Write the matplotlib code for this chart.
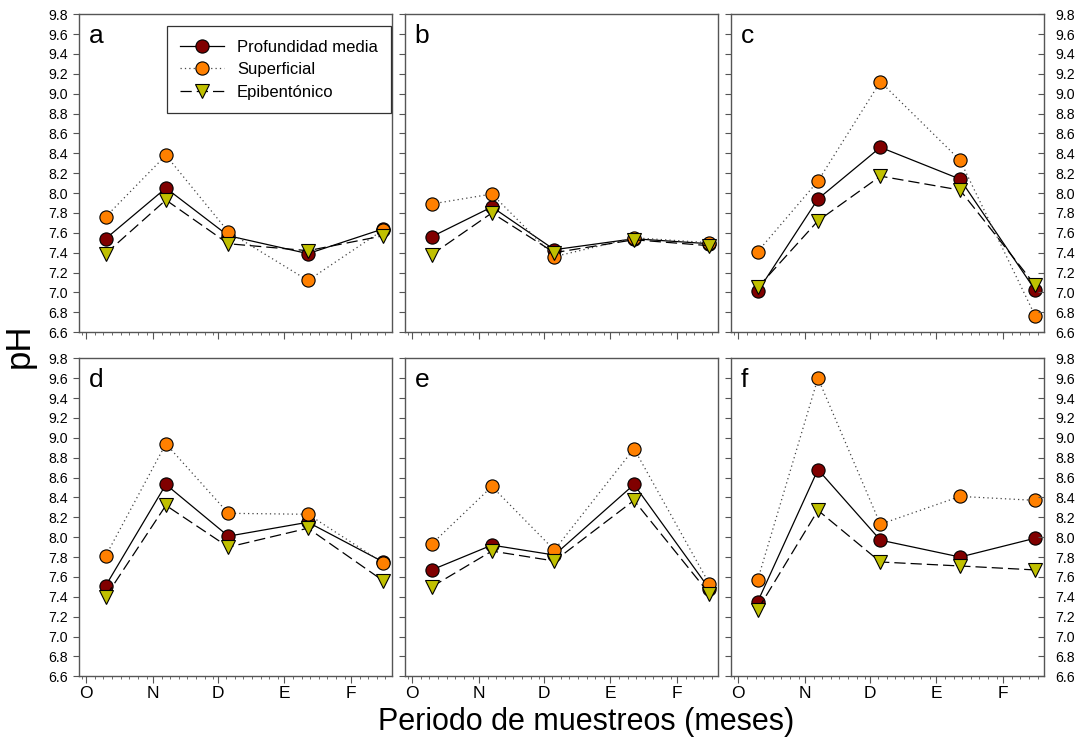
import matplotlib
matplotlib.use("Agg")
import matplotlib.pyplot as plt
import matplotlib.dates as mdates
import pandas as pd

plt.rcParams["font.family"] = ["Liberation Sans", "DejaVu Sans"]

# ── Data ───────────────────────────────────────────────────
sample_dates = pd.to_datetime(["2012-10-10", "2012-11-07", "2012-12-06",
                               "2013-01-12", "2013-02-16"])
month_ticks = pd.to_datetime(["2012-10-01", "2012-11-01", "2012-12-01",
                              "2013-01-01", "2013-02-01"])
month_labels = ["O", "N", "D", "E", "F"]
panel_letters = ["a", "b", "c", "d", "e", "f"]
series_names = ["Profundidad media", "Superficial", "Epibentónico"]

media = {
    "a": [7.54, 8.05, 7.57, 7.39, 7.64],
    "b": [7.56, 7.86, 7.43, 7.54, 7.49],
    "c": [7.01, 7.94, 8.46, 8.14, 7.02],
    "d": [7.51, 8.53, 8.01, 8.15, 7.75],
    "e": [7.67, 7.92, 7.82, 8.53, 7.48],
    "f": [7.35, 8.68, 7.97, 7.80, 7.99],
}
superficial = {
    "a": [7.76, 8.38, 7.61, 7.12, 7.63],
    "b": [7.89, 7.99, 7.36, 7.55, 7.50],
    "c": [7.41, 8.12, 9.12, 8.33, 6.76],
    "d": [7.81, 8.94, 8.24, 8.23, 7.74],
    "e": [7.93, 8.51, 7.87, 8.89, 7.53],
    "f": [7.57, 9.60, 8.13, 8.41, 8.37],
}
epibentonico = {
    "a": [7.39, 7.93, 7.49, 7.42, 7.57],
    "b": [7.38, 7.80, 7.40, 7.53, 7.47],
    "c": [7.05, 7.72, 8.17, 8.03, 7.07],
    "d": [7.40, 8.32, 7.90, 8.09, 7.56],
    "e": [7.50, 7.86, 7.76, 8.37, 7.43],
    "f": [7.27, 8.27, 7.75, 7.71, 7.67],
}

# ── Styles ─────────────────────────────────────────────────
C_MEDIA = "#800000"
C_SUP = "#ff8000"
C_EPI = "#c0c000"
SPINE = "#555555"

fig, axes = plt.subplots(2, 3, figsize=(10.83, 7.44), dpi=100, sharex=True)
fig.subplots_adjust(left=0.073, right=0.964, top=0.981, bottom=0.091,
                    wspace=0.042, hspace=0.082)

yticks = [6.6 + 0.2 * i for i in range(17)]
ylabels = [f"{v:.1f}" for v in yticks]

for i, (ax, key) in enumerate(zip(axes.flat, panel_letters)):
    l1, = ax.plot(sample_dates, media[key], "-", color="black", lw=0.9,
                  marker="o", ms=9.5, mfc=C_MEDIA, mec="black", mew=0.8,
                  zorder=3, label=series_names[0])
    l2, = ax.plot(sample_dates, superficial[key], color="#444444", lw=0.9,
                  ls=(0, (1, 2.5)), marker="o", ms=9.5, mfc=C_SUP, mec="black",
                  mew=0.8, zorder=4, label=series_names[1])
    l3, = ax.plot(sample_dates, epibentonico[key], color="black", lw=0.9,
                  ls=(0, (9, 4)), marker="v", ms=10, mfc=C_EPI, mec="black",
                  mew=0.8, zorder=5, label=series_names[2])

    ax.set_ylim(6.6, 9.8)
    ax.set_xlim(pd.Timestamp("2012-09-27 16:00"), pd.Timestamp("2013-02-20"))
    ax.set_yticks(yticks)
    ax.set_yticklabels(ylabels, fontsize=10.2)
    ax.set_xticks(month_ticks)
    ax.set_xticklabels(month_labels, fontsize=12.5)
    ax.xaxis.set_minor_locator(mdates.DayLocator(bymonthday=[5, 9, 13, 17, 21, 25, 29]))
    ax.tick_params(axis="x", which="major", direction="out", length=5,
                   width=0.8, color=SPINE, pad=2)
    ax.tick_params(axis="x", which="minor", direction="out", length=2.5,
                   width=0.6, color=SPINE)
    ax.tick_params(axis="y", which="major", direction="out", length=4,
                   width=0.8, color=SPINE, pad=4)
    for s in ax.spines.values():
        s.set_color(SPINE)
        s.set_linewidth(1.0)

    col = i % 3
    if col == 1:
        ax.tick_params(axis="y", labelleft=False)
    elif col == 2:
        ax.tick_params(axis="y", labelleft=False)
        # right-hand scale, ticks pointing inward
        tw = ax.twinx()
        tw.set_ylim(6.6, 9.8)
        tw.set_yticks(yticks)
        tw.set_yticklabels(ylabels, fontsize=10.2)
        tw.tick_params(axis="y", direction="in", length=4, width=0.8,
                       color=SPINE, pad=8)
        for s in tw.spines.values():
            s.set_visible(False)

    ax.text(0.03, 0.968, key, transform=ax.transAxes, ha="left", va="top",
            fontsize=19)

    if key == "a":
        leg = ax.legend(handles=[l1, l2, l3], loc="upper right",
                        bbox_to_anchor=(0.998, 0.962), fontsize=12,
                        handlelength=2.6, handletextpad=0.8, frameon=True,
                        fancybox=False, borderpad=0.8, labelspacing=0.45,
                        borderaxespad=0)
        leg.get_frame().set_edgecolor("black")
        leg.get_frame().set_linewidth(0.9)

fig.text(0.018, 0.535, "pH", rotation=90, ha="center", va="center", fontsize=25)
fig.text(0.541, 0.029, "Periodo de muestreos (meses)", ha="center",
         va="center", fontsize=22)

fig.savefig("out.png", dpi=100)
